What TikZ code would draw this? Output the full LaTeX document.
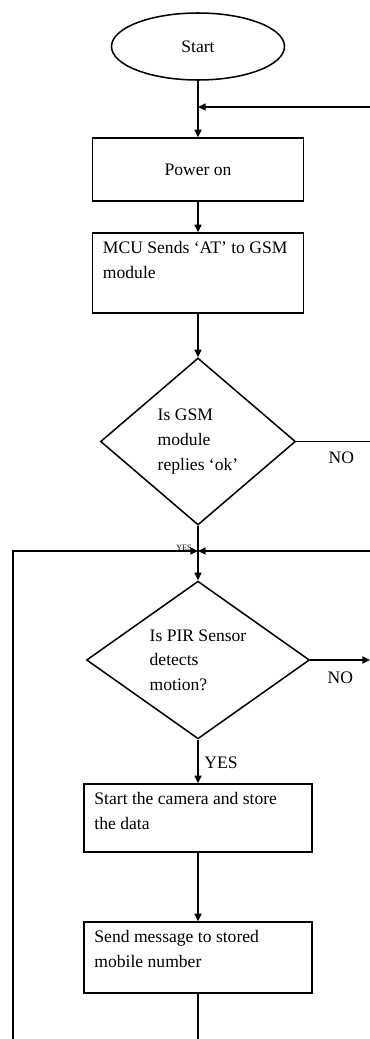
\documentclass[tikz,border=0pt]{standalone}
\usepackage{fontspec}
\setmainfont{Liberation Serif}
\usetikzlibrary{arrows.meta, positioning, shapes.geometric, calc}
\newcommand{\flowfont}{\fontsize{15pt}{21pt}\selectfont}

\begin{document}
\begin{tikzpicture}[
    x=0.03cm, y=-0.03cm,
    >={Triangle[length=6.5pt, width=6pt]},
    flow/.style={draw, line width=1.3pt},
    procbox/.style={rectangle, draw, line width=1.3pt, inner sep=0pt, font=\flowfont},
    boxtext/.style={anchor=north west, align=left, inner xsep=0.33cm, inner ysep=0.27cm, font=\flowfont},
    decision/.style={diamond, draw, line width=1.3pt, inner sep=0pt, align=left, font=\flowfont},
    tag/.style={font=\flowfont, inner sep=1pt}
  ]
  \fill[white] (0,0) rectangle (370,1039);
  \useasboundingbox (0,0) rectangle (370,1039);

  % main column
  \node[ellipse, draw, line width=1.3pt, inner sep=0pt, minimum width=5.19cm,
    minimum height=2.01cm, font=\flowfont] (start) at (198,46.5) {Start};
  \node[procbox, minimum width=6.33cm, minimum height=1.89cm] (pwr) at (198,169.5) {Power on};
  \node[procbox, minimum width=6.33cm, minimum height=2.4cm,
    label={[boxtext]north west:{MCU Sends ‘AT’ to GSM\\module}}] (mcu) at (198,273) {};
  \node[decision, minimum width=5.85cm, minimum height=5.01cm] (gsm) at (198,441.5)
    {Is GSM\\module\\replies ‘ok’};
  \node[decision, minimum width=6.69cm, minimum height=4.62cm] (pir) at (198,660)
    {Is PIR Sensor\\detects\\motion?};
  \node[procbox, minimum width=6.84cm, minimum height=2.04cm,
    label={[boxtext]north west:{Start the camera and store\\the data}}] (cam) at (198,818) {};
  \node[procbox, minimum width=6.84cm, minimum height=2.13cm,
    label={[boxtext]north west:{Send message to stored\\mobile number}}] (msg) at (198,957.5) {};

  % loop points
  \coordinate (j1) at (198,107);
  \coordinate (j2) at (198,551);
  \coordinate (r1) at (370,107);
  \coordinate (r2) at (370,551);
  \coordinate (nogsm) at (370,441.5);
  \coordinate (nopir) at (370,660);
  \coordinate (lb) at (13,1039);
  \coordinate (bot) at (198,1039);

  % connectors
  \draw[flow] (start) -- (j1);
  \draw[flow, ->] (j1) -- (pwr);
  \draw[flow, ->] (r1) -- (j1);
  \draw[flow, ->] (pwr) -- (mcu);
  \draw[flow, ->] (mcu) -- (gsm);
  \draw[flow] (gsm.east) -- (nogsm);
  \draw[flow] (gsm) -- (j2);
  \draw[flow, ->] (j2) -- (pir);
  \draw[flow, ->] (r2) -- (j2);
  \draw[flow, ->] (lb) |- (j2);
  \draw[flow, ->] (pir.east) -- (nopir);
  \draw[flow, ->] (pir) -- (cam);
  \draw[flow, ->] (cam) -- (msg);
  \draw[flow] (msg) -- (bot);

  % branch labels
  \node[tag, anchor=north west] (no1) at ($(gsm.east)+(31,9)$) {NO};
  \node[tag, anchor=north west] (no2) at ($(pir.east)+(16,10)$) {NO};
  \node[tag, anchor=west] (yes2) at ($(pir.south)+(5,23)$) {YES};
  \node[font=\fontsize{7pt}{8pt}\selectfont, inner sep=0pt, anchor=east] (yes1)
    at ($(j2)+(-6,-3)$) {YES};
\end{tikzpicture}
\end{document}
